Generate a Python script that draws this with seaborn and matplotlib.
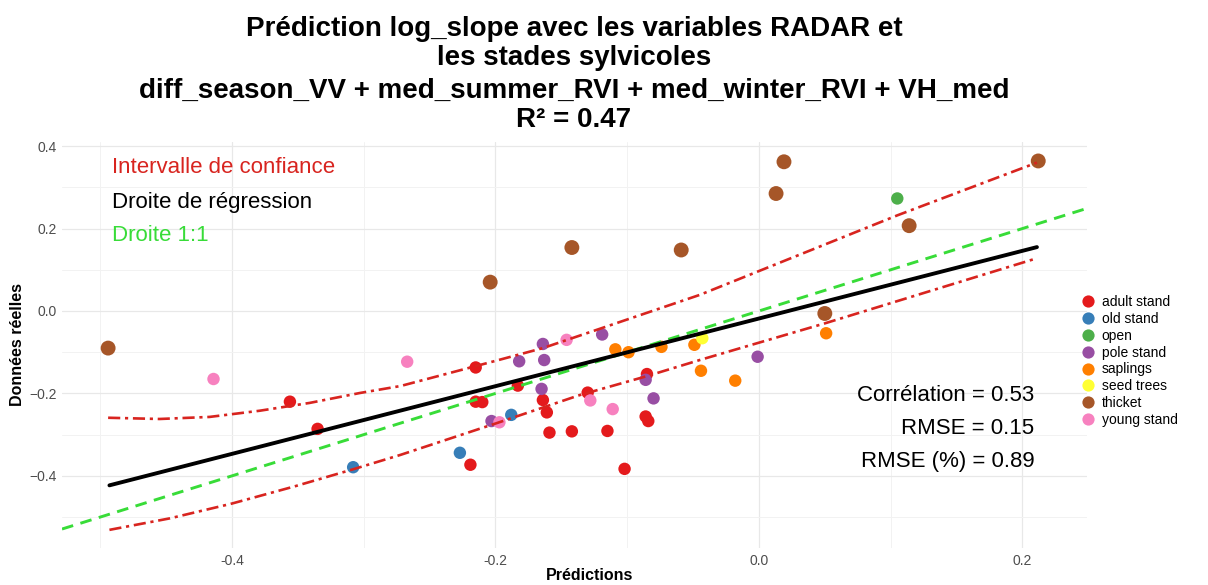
import numpy as np
import pandas as pd
import seaborn as sns
import matplotlib.pyplot as plt
from matplotlib import font_manager
from matplotlib.lines import Line2D

adult_pred = [-0.356, -0.335, -0.215, -0.215, -0.210, -0.219, -0.183, -0.164, -0.161,
              -0.159, -0.142, -0.130, -0.115, -0.102, -0.085, -0.086, -0.084]
adult_obs = [-0.220, -0.286, -0.137, -0.220, -0.221, -0.373, -0.181, -0.216, -0.246,
             -0.295, -0.292, -0.198, -0.291, -0.383, -0.153, -0.256, -0.267]
old_pred = [-0.308, -0.227, -0.188]
old_obs = [-0.379, -0.344, -0.252]
open_pred = [0.105]
open_obs = [0.273]
pole_pred = [-0.203, -0.182, -0.164, -0.163, -0.165, -0.119, -0.086, -0.080, -0.001]
pole_obs = [-0.267, -0.122, -0.080, -0.119, -0.189, -0.057, -0.167, -0.212, -0.111]
sapling_pred = [-0.109, -0.099, -0.074, -0.049, -0.044, -0.018, 0.051]
sapling_obs = [-0.093, -0.100, -0.087, -0.082, -0.145, -0.169, -0.054]
seed_pred = [-0.043]
seed_obs = [-0.066]
thicket_pred = [-0.494, -0.204, -0.142, -0.059, 0.013, 0.019, 0.114, 0.212, 0.050]
thicket_obs = [-0.090, 0.070, 0.154, 0.148, 0.285, 0.362, 0.207, 0.364, -0.006]
young_pred = [-0.414, -0.267, -0.197, -0.146, -0.128, -0.111]
young_obs = [-0.165, -0.123, -0.270, -0.070, -0.217, -0.238]

stades = ['adult stand', 'old stand', 'open', 'pole stand', 'saplings',
          'seed trees', 'thicket', 'young stand']
stade_colours = ['#E41A1C', '#377EB8', '#4DAF4A', '#984EA3', '#FF7F00',
                 '#FFFF33', '#A65628', '#F781BF']

# regression line and confidence bounds as drawn
reg_x = [-0.493, 0.211]
reg_y = [-0.423, 0.155]
upper_x = [-0.494, -0.455, -0.417, -0.379, -0.341, -0.303, -0.272, -0.200, -0.164, -0.045, 0.105, 0.211]
upper_y = [-0.259, -0.262, -0.257, -0.242, -0.223, -0.199, -0.182, -0.121, -0.090, 0.039, 0.232, 0.360]
lower_x = [-0.493, -0.447, -0.401, -0.353, -0.308, -0.272, -0.199, -0.136, -0.085, -0.045, 0.050, 0.211]
lower_y = [-0.531, -0.503, -0.468, -0.426, -0.384, -0.349, -0.272, -0.204, -0.158, -0.119, -0.030, 0.128]

x_ticks = [-0.4, -0.2, 0.0, 0.2]
x_tick_labels = ['-0.4', '-0.2', '0.0', '0.2']
y_ticks = [-0.4, -0.2, 0.0, 0.2, 0.4]
y_tick_labels = ['\u22120.4', '\u22120.2', '0.0', '0.2', '0.4']

title_lines = ['Prédiction log_slope avec les variables RADAR et',
               'les stades sylvicoles',
               'diff_season_VV + med_summer_RVI + med_winter_RVI + VH_med',
               'R\u00b2 = 0.47']
stats_lines = ['Corrélation = 0.53', 'RMSE = 0.15', 'RMSE (%) = 0.89']

RED = '#d8241f'
GREEN = '#38dc38'

sns.set_style('white')
plt.rcParams['font.family'] = ['Liberation Sans', 'DejaVu Sans']
plt.rcParams['text.color'] = 'black'

# the x title looks squeezed on the original, use a narrow face if there is one
installed = {f.name for f in font_manager.fontManager.ttflist}
narrow = 'Liberation Sans Narrow' if 'Liberation Sans Narrow' in installed else 'Liberation Sans'


def build_frame():
    groups = [(adult_pred, adult_obs), (old_pred, old_obs), (open_pred, open_obs),
              (pole_pred, pole_obs), (sapling_pred, sapling_obs), (seed_pred, seed_obs),
              (thicket_pred, thicket_obs), (young_pred, young_obs)]
    frames = []
    for name, (p, o) in zip(stades, groups):
        frames.append(pd.DataFrame({'pred': p, 'obs': o, 'stade': name}))
    return pd.concat(frames, ignore_index=True)


df = build_frame()

fig = plt.figure(figsize=(12.08, 5.85), dpi=100)
ax = fig.add_axes([62 / 1208, 1 - 548 / 585, (1087 - 62) / 1208, (548 - 142) / 585])

palette = dict(zip(stades, stade_colours))
sns.scatterplot(data=df, x='pred', y='obs', hue='stade', hue_order=stades, palette=palette,
                s=80, linewidth=0, legend=False, ax=ax, zorder=2)
# thicket points come out a little bigger on the original
sizes = np.where(df['stade'] == 'thicket', 115, 80)
ax.collections[0].set_sizes(sizes)

ax.axline((0, 0), slope=1, color=GREEN, lw=2.1, linestyle=(0, (4.0, 2.6)), zorder=3)
sns.lineplot(x=upper_x, y=upper_y, color=RED, lw=1.9, linestyle=(0, (4.6, 1.8, 1.2, 1.8)), ax=ax, zorder=3)
sns.lineplot(x=lower_x, y=lower_y, color=RED, lw=1.9, linestyle=(0, (4.6, 1.8, 1.2, 1.8)), ax=ax, zorder=3)
sns.lineplot(x=reg_x, y=reg_y, color='black', lw=2.8, ax=ax, zorder=4)

ax.set_xlim(-0.529, 0.249)
ax.set_ylim(-0.575, 0.410)
ax.set_xticks(x_ticks)
ax.set_xticklabels(x_tick_labels)
ax.set_yticks(y_ticks)
ax.set_yticklabels(y_tick_labels)
ax.set_xticks([-0.5, -0.3, -0.1, 0.1], minor=True)
ax.set_yticks([-0.5, -0.3, -0.1, 0.1, 0.3], minor=True)
ax.grid(which='major', color='#e8e8e8', lw=0.9)
ax.grid(which='minor', color='#f2f2f2', lw=0.7)
ax.set_axisbelow(True)
ax.tick_params(which='both', length=0, labelsize=10, labelcolor='#4d4d4d', pad=4)
for s in ax.spines.values():
    s.set_visible(False)

ax.set_xlabel('Prédictions', fontsize=11.5, fontweight='bold', color='black', family=narrow)
ax.xaxis.set_label_coords((590 - 62) / (1087 - 62), -(568 - 548) / (548 - 142))
ax.set_ylabel('Données réelles', fontsize=11.5, fontweight='bold', color='black')
ax.yaxis.set_label_coords(-(62 - 25) / (1087 - 62), 0.5)

ax.text(-0.491, 0.347, 'Intervalle de confiance', color=RED, fontsize=16, va='center')
ax.text(-0.491, 0.264, 'Droite de régression', color='black', fontsize=16, va='center')
ax.text(-0.491, 0.182, 'Droite 1:1', color=GREEN, fontsize=16, va='center')
for txt, yy in zip(stats_lines, [-0.204, -0.284, -0.364]):
    ax.text(0.209, yy, txt, ha='right', va='center', fontsize=16, color='black')

for txt, yy in zip(title_lines, [29, 58, 91, 120]):
    fig.text(574 / 1208, 1 - yy / 585, txt, ha='center', va='center', fontsize=20,
             fontweight='bold', color='black')

handles = [Line2D([], [], marker='o', ls='', markersize=8.8, markerfacecolor=c, markeredgewidth=0)
           for c in stade_colours]
leg = fig.legend(handles, stades, loc='center left', bbox_to_anchor=(1069 / 1208, 1 - 361 / 585),
                 frameon=False, fontsize=10, handlelength=1.0, handletextpad=0.45, labelspacing=0.2)
for t in leg.get_texts():
    t.set_color('black')

fig.savefig('out.png', dpi=100)
